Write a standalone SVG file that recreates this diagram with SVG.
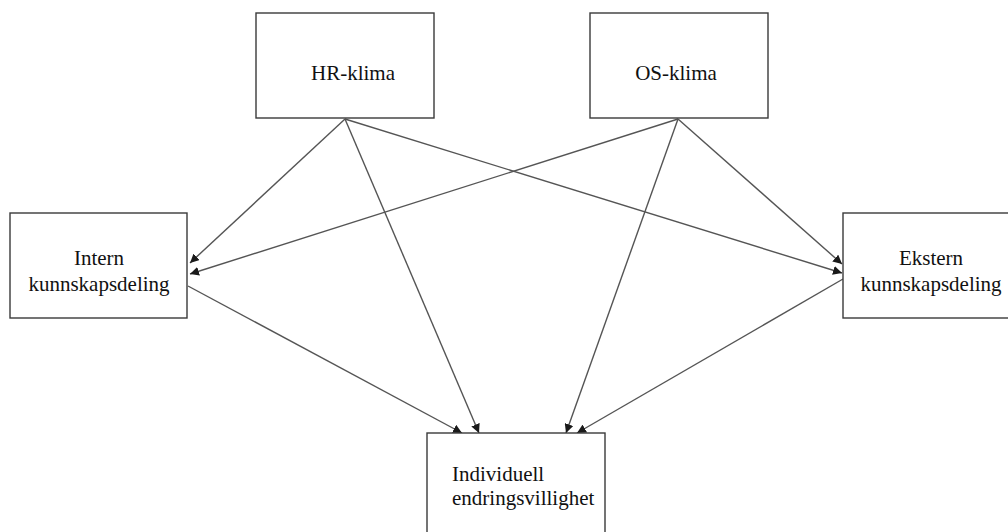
<svg xmlns="http://www.w3.org/2000/svg" width="1008" height="532" viewBox="0 0 1008 532">
<style>
.box{fill:#fff;stroke:#3a3a3a;stroke-width:1.4}
.lbl{font-family:"Liberation Serif","Times New Roman",serif;font-size:21px;fill:#111}
.edge{stroke:#555;stroke-width:1.4;fill:none;marker-end:url(#ah)}
</style>
<defs>
<marker id="ah" viewBox="0 0 10 10" refX="10" refY="5" markerWidth="9" markerHeight="9" markerUnits="userSpaceOnUse" orient="auto">
<path d="M0,0 L10,5 L0,10 z" fill="#1a1a1a"/>
</marker>
</defs>
<rect width="1008" height="532" fill="#fff"/>
<g id="connectors">
<line class="edge" x1="345" y1="119" x2="190" y2="263"/>
<line class="edge" x1="678" y1="119" x2="190" y2="274"/>
<line class="edge" x1="345" y1="119" x2="842" y2="273"/>
<line class="edge" x1="678" y1="119" x2="842" y2="264"/>
<line class="edge" x1="345" y1="119" x2="479" y2="433"/>
<line class="edge" x1="678" y1="119" x2="566" y2="433"/>
<line class="edge" x1="188" y1="286" x2="462" y2="433"/>
<line class="edge" x1="843" y1="279" x2="577" y2="433"/>
</g>
<g id="hr-klima">
<rect class="box" x="256" y="13" width="178" height="105"/>
<text class="lbl" x="353" y="80" text-anchor="middle">HR-klima</text>
</g>
<g id="os-klima">
<rect class="box" x="590" y="13" width="178" height="105"/>
<text class="lbl" x="676" y="80" text-anchor="middle">OS-klima</text>
</g>
<g id="intern">
<rect class="box" x="10" y="213" width="177" height="105"/>
<text class="lbl" x="99" y="265" text-anchor="middle">Intern</text>
<text class="lbl" x="99" y="291" text-anchor="middle">kunnskapsdeling</text>
</g>
<g id="ekstern">
<rect class="box" x="843" y="213" width="177" height="105"/>
<text class="lbl" x="931" y="265" text-anchor="middle">Ekstern</text>
<text class="lbl" x="931" y="291" text-anchor="middle">kunnskapsdeling</text>
</g>
<g id="individuell">
<rect class="box" x="427" y="433" width="178" height="110"/>
<text class="lbl" x="452" y="481">Individuell</text>
<text class="lbl" x="452" y="505">endringsvillighet</text>
</g>
</svg>
